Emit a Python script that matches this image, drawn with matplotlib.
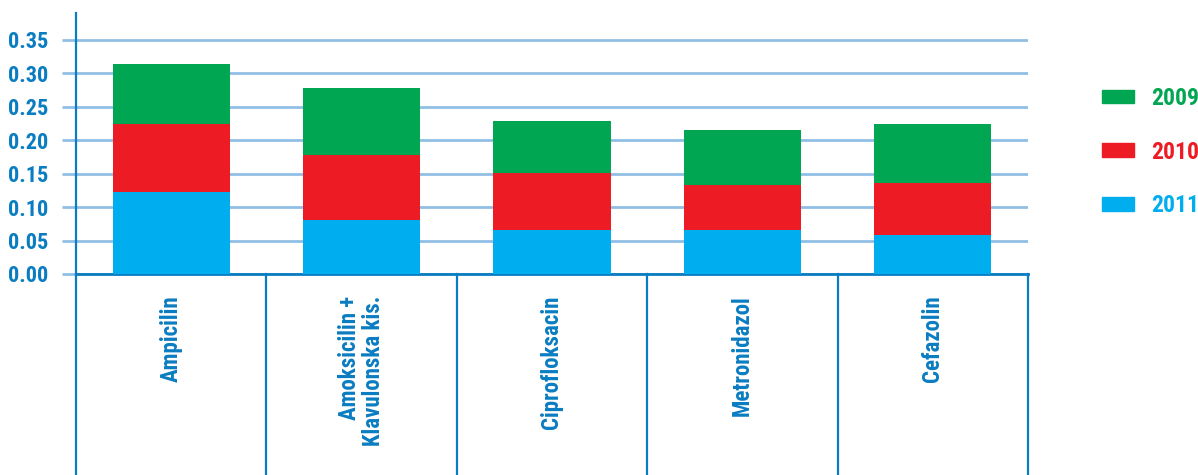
import matplotlib
matplotlib.use("Agg")
import matplotlib.pyplot as plt
import matplotlib.transforms as mtransforms
from matplotlib.patches import Patch
import numpy as np

plt.rcParams['font.family'] = ['Roboto Condensed', 'Liberation Sans Narrow', 'Roboto', 'DejaVu Sans']
plt.rcParams['font.stretch'] = 'condensed'
plt.rcParams['font.weight'] = 'bold'

# DDD per antibiotic, stacked by year
drugs = ["Ampicilin", "Amoksicilin +\nKlavulonska kis.", "Ciprofloksacin", "Metronidazol", "Cefazolin"]
years = ["2011", "2010", "2009"]
val_2011 = [0.123, 0.081, 0.066, 0.066, 0.058]
val_2010 = [0.101, 0.097, 0.085, 0.067, 0.078]
val_2009 = [0.090, 0.100, 0.078, 0.082, 0.088]
yticks = [0.00, 0.05, 0.10, 0.15, 0.20, 0.25, 0.30, 0.35]

c2011 = "#00aeef"
c2010 = "#ed1c24"
c2009 = "#00a651"
axis_blue = "#0a7cc1"
grid_blue = "#90bfe6"

fig = plt.figure(figsize=(11.98, 4.75), dpi=100)
ax = fig.add_axes([76/1198, 201/475, (1028-76)/1198, 261/475])

x = np.arange(len(drugs))
w = 0.615
b1 = np.array(val_2011)
b2 = b1 + np.array(val_2010)
ax.bar(x, val_2011, w, color=c2011, zorder=3)
ax.bar(x, val_2010, w, bottom=b1, color=c2010, zorder=3)
ax.bar(x, val_2009, w, bottom=b2, color=c2009, zorder=3)

ax.set_xlim(-0.5, len(drugs) - 0.5)
ax.set_ylim(0, 0.39)
ax.set_yticks(yticks)
ax.set_yticklabels(["%.2f" % v for v in yticks])
ax.yaxis.grid(True, color=grid_blue, linewidth=2, zorder=0)
ax.set_xticks([])
ax.tick_params(axis='y', length=10, width=2, color=grid_blue, pad=10,
               labelsize=16, labelcolor=axis_blue)

for s in ["top", "right"]:
    ax.spines[s].set_visible(False)
ax.spines["left"].set_color(axis_blue)
ax.spines["left"].set_linewidth(1.6)
ax.spines["bottom"].set_color(axis_blue)
ax.spines["bottom"].set_linewidth(2)

# table-like separators under the axis
trans = mtransforms.blended_transform_factory(ax.transData, ax.transAxes)
for xb in np.arange(-0.5, len(drugs), 1.0):
    ax.plot([xb, xb], [0, -0.78], transform=trans, color=axis_blue,
            linewidth=1.6, clip_on=False)

for i, name in enumerate(drugs):
    ax.text(i, -0.082, name, transform=trans, rotation=90, ha='center', va='top',
            multialignment='right', fontsize=16.5, color=axis_blue, fontweight='bold',
            linespacing=1.05)

handles = [Patch(color=c2009), Patch(color=c2010), Patch(color=c2011)]
leg = fig.legend(handles, ["2009", "2010", "2011"], loc='center left',
                 bbox_to_anchor=(1102/1198, 1 - 152/475), frameon=False,
                 fontsize=17, handlelength=1.35, handleheight=0.5,
                 handletextpad=0.75, labelspacing=1.3, borderpad=0, borderaxespad=0)
for t, c in zip(leg.get_texts(), [c2009, c2010, c2011]):
    t.set_color(c)
    t.set_fontweight('bold')

plt.savefig("out.png", dpi=100)
